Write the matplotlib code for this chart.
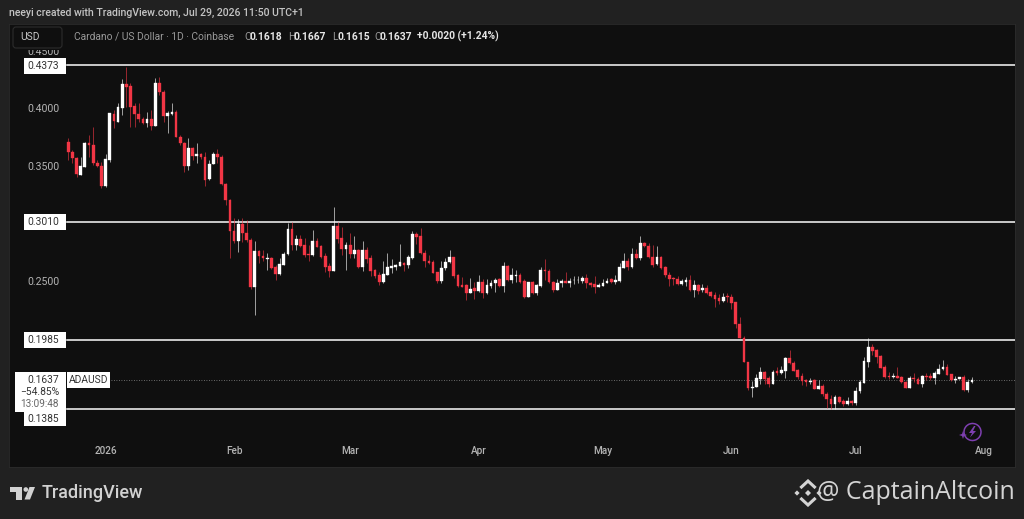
import numpy as np
import pandas as pd
import matplotlib
matplotlib.use('Agg')
import matplotlib.pyplot as plt
import matplotlib.dates as mdates
from matplotlib.patches import Rectangle, FancyBboxPatch, Polygon, Arc

# ADA/USD daily candles
dates = pd.date_range('2025-12-23', periods=219, freq='D')

opens = [
    .3710, .3623, .3566, .3421, .3493, .3696, .3684, .3522, .3501, .3325,
    .3551, .3951, .3884, .4001, .4212, .4195, .4021, .3949, .3908, .3876,
    .3905, .3849, .4218, .4140, .3934, .3951, .3966, .3754, .3696, .3501,
    .3653, .3588, .3601, .3580, .3383, .3516, .3603, .3580, .3342, .3203,
    .2933, .2846, .2994, .2916, .2855, .2446, .2759, .2716, .2690, .2698,
    .2620, .2559, .2638, .2733, .2951, .2812, .2864, .2812, .2733, .2725,
    .2846, .2803, .2716, .2629, .2585, .2977, .2870, .2777, .2812, .2733,
    .2768, .2623, .2768, .2696, .2594, .2548, .2487, .2553, .2614, .2623,
    .2632, .2655, .2638, .2701, .2904, .2893, .2745, .2672, .2667, .2574,
    .2498, .2614, .2661, .2704, .2548, .2464, .2464, .2397, .2435, .2414,
    .2487, .2391, .2455, .2478, .2513, .2455, .2626, .2507, .2542, .2548,
    .2498, .2362, .2490, .2391, .2458, .2594, .2585, .2490, .2420, .2478,
    .2501, .2484, .2504, .2504, .2501, .2524, .2481, .2472, .2449, .2458,
    .2481, .2513, .2490, .2495, .2614, .2672, .2617, .2733, .2698, .2826,
    .2806, .2707, .2646, .2704, .2617, .2550, .2524, .2519, .2472, .2487,
    .2507, .2423, .2463, .2417, .2440, .2405, .2376, .2353, .2327, .2368,
    .2362, .2313, .2124, .2000, .1796, .1567, .1574, .1648, .1707, .1657,
    .1602, .1713, .1695, .1715, .1831, .1787, .1724, .1672, .1640, .1620,
    .1637, .1561, .1585, .1515, .1474, .1431, .1489, .1457, .1431, .1457,
    .1440, .1539, .1614, .1794, .1924, .1898, .1846, .1750, .1672, .1663,
    .1672, .1663, .1622, .1567, .1657, .1648, .1602, .1674, .1672, .1652,
    .1689, .1730, .1748, .1687, .1637, .1646, .1663, .1550, .1618,
]
highs = [
    .3740, .3638, .3580, .3580, .3710, .3768, .3841, .3551, .3536, .3601,
    .3963, .3986, .4049, .4253, .4363, .4218, .4044, .4044, .3928, .3971,
    .3986, .4267, .4271, .4160, .3980, .4044, .3986, .3768, .3710, .3740,
    .3667, .3702, .3615, .3623, .3551, .3623, .3644, .3595, .3351, .3212,
    .3046, .3038, .3046, .3029, .2872, .2846, .2768, .2768, .2742, .2707,
    .2638, .2698, .2751, .3003, .3012, .2899, .2899, .2872, .2812, .2942,
    .2872, .2812, .2742, .2655, .3142, .3012, .2965, .2841, .2919, .2890,
    .2774, .2849, .2797, .2725, .2600, .2580, .2672, .2739, .2687, .2643,
    .2817, .2667, .2725, .2933, .2928, .2957, .2768, .2725, .2681, .2580,
    .2672, .2696, .2768, .2707, .2559, .2530, .2469, .2527, .2492, .2550,
    .2513, .2516, .2507, .2522, .2522, .2667, .2638, .2609, .2594, .2565,
    .2513, .2492, .2498, .2469, .2617, .2687, .2600, .2501, .2513, .2513,
    .2580, .2522, .2542, .2542, .2542, .2559, .2490, .2542, .2484, .2516,
    .2522, .2522, .2550, .2658, .2739, .2696, .2783, .2774, .2890, .2841,
    .2826, .2812, .2803, .2716, .2629, .2580, .2530, .2542, .2516, .2536,
    .2550, .2507, .2472, .2475, .2463, .2411, .2400, .2383, .2397, .2391,
    .2383, .2316, .2185, .2020, .1796, .1628, .1689, .1750, .1715, .1672,
    .1724, .1753, .1761, .1840, .1898, .1798, .1733, .1698, .1646, .1652,
    .1643, .1637, .1602, .1535, .1507, .1507, .1498, .1472, .1489, .1466,
    .1579, .1637, .1834, .1999, .1950, .1907, .1852, .1768, .1704, .1701,
    .1747, .1668, .1628, .1674, .1695, .1666, .1680, .1698, .1695, .1718,
    .1776, .1811, .1774, .1689, .1674, .1666, .1678, .1643, .1667,
]
lows = [
    .3551, .3522, .3406, .3421, .3493, .3580, .3508, .3493, .3305, .3319,
    .3536, .3827, .3884, .3943, .4015, .3841, .3841, .3884, .3864, .3841,
    .3812, .3847, .4117, .3884, .3788, .3943, .3754, .3681, .3449, .3464,
    .3551, .3522, .3557, .3325, .3377, .3516, .3522, .3334, .3159, .2698,
    .2829, .2751, .2838, .2838, .2429, .2203, .2655, .2672, .2594, .2603,
    .2507, .2551, .2638, .2725, .2768, .2768, .2794, .2707, .2672, .2716,
    .2790, .2698, .2577, .2533, .2585, .2829, .2725, .2594, .2696, .2696,
    .2609, .2585, .2658, .2542, .2522, .2464, .2484, .2551, .2565, .2594,
    .2629, .2585, .2614, .2687, .2820, .2733, .2623, .2646, .2565, .2484,
    .2478, .2594, .2658, .2522, .2443, .2443, .2333, .2391, .2342, .2406,
    .2348, .2385, .2435, .2406, .2449, .2406, .2501, .2478, .2493, .2478,
    .2353, .2362, .2385, .2377, .2449, .2507, .2478, .2406, .2420, .2443,
    .2478, .2449, .2472, .2484, .2484, .2435, .2449, .2391, .2446, .2452,
    .2478, .2478, .2472, .2492, .2608, .2594, .2611, .2687, .2681, .2791,
    .2696, .2617, .2640, .2603, .2530, .2455, .2464, .2464, .2464, .2457,
    .2414, .2362, .2385, .2403, .2385, .2362, .2275, .2298, .2318, .2318,
    .2255, .2089, .1998, .1794, .1550, .1486, .1574, .1602, .1602, .1579,
    .1602, .1680, .1687, .1652, .1776, .1711, .1646, .1593, .1587, .1600,
    .1556, .1556, .1500, .1396, .1382, .1382, .1440, .1411, .1419, .1419,
    .1419, .1521, .1608, .1753, .1854, .1782, .1739, .1657, .1646, .1652,
    .1652, .1611, .1565, .1565, .1622, .1600, .1579, .1637, .1637, .1602,
    .1687, .1724, .1680, .1631, .1614, .1643, .1544, .1533, .1615,
]
closes = [
    .3623, .3566, .3429, .3499, .3696, .3681, .3528, .3501, .3325, .3560,
    .3957, .3890, .4009, .4212, .4189, .4009, .3949, .3905, .3876, .3905,
    .3849, .4218, .4140, .3934, .3957, .3966, .3754, .3696, .3501, .3653,
    .3588, .3601, .3574, .3377, .3516, .3601, .3580, .3340, .3203, .2933,
    .2846, .2994, .2916, .2855, .2446, .2759, .2716, .2698, .2698, .2611,
    .2559, .2646, .2733, .2951, .2812, .2864, .2803, .2725, .2725, .2846,
    .2794, .2707, .2620, .2585, .2977, .2864, .2774, .2812, .2733, .2768,
    .2623, .2768, .2690, .2585, .2542, .2493, .2556, .2617, .2629, .2638,
    .2661, .2638, .2707, .2904, .2884, .2745, .2672, .2658, .2571, .2498,
    .2614, .2667, .2707, .2539, .2458, .2449, .2391, .2432, .2408, .2487,
    .2391, .2461, .2481, .2507, .2455, .2632, .2507, .2548, .2551, .2490,
    .2359, .2487, .2391, .2464, .2594, .2588, .2487, .2420, .2481, .2501,
    .2484, .2501, .2510, .2510, .2522, .2478, .2464, .2449, .2464, .2481,
    .2501, .2487, .2507, .2620, .2672, .2617, .2733, .2698, .2826, .2803,
    .2707, .2640, .2707, .2611, .2550, .2519, .2516, .2475, .2498, .2510,
    .2417, .2463, .2411, .2440, .2397, .2370, .2342, .2327, .2359, .2355,
    .2310, .2124, .2000, .1796, .1565, .1579, .1654, .1707, .1648, .1600,
    .1707, .1695, .1724, .1831, .1782, .1718, .1666, .1631, .1620, .1631,
    .1561, .1587, .1513, .1472, .1431, .1489, .1446, .1431, .1457, .1437,
    .1541, .1617, .1800, .1924, .1889, .1840, .1744, .1666, .1660, .1672,
    .1657, .1617, .1570, .1654, .1646, .1602, .1674, .1660, .1654, .1695,
    .1735, .1748, .1680, .1637, .1648, .1663, .1550, .1622, .1637,
]

levels = [0.4373, 0.3010, 0.1985, 0.1385]
last_price = 0.1637
ytick_vals = [0.45, 0.40, 0.35, 0.25]
month_dates = ['2026-01-01', '2026-02-01', '2026-03-01', '2026-04-01',
               '2026-05-01', '2026-06-01', '2026-07-01', '2026-08-01']
month_labels = ['2026', 'Feb', 'Mar', 'Apr', 'May', 'Jun', 'Jul', 'Aug']

BG = '#212121'
PANE = '#0f0f0f'
RED = '#f23645'
TXT = '#b4b4b4'
PURPLE = '#7e3fb0'
plt.rcParams['font.family'] = ['Roboto', 'DejaVu Sans']

W, H = 1024, 519
fig = plt.figure(figsize=(W / 100, H / 100), dpi=100, facecolor=BG)

# chart pane: x 9..1015, y 24..467 in pixels
ax = fig.add_axes([9 / W, 1 - 467 / H, 1006 / W, 443 / H], facecolor=PANE)
x = mdates.date2num(dates)
o, h, l, c = map(np.array, (opens, highs, lows, closes))
up = c >= o
cols = np.where(up, '#ffffff', RED)

for lev in levels:
    ax.axhline(lev, xmin=58 / 1006, color='#f2f2f2', lw=1.15, zorder=1)
ax.axhline(last_price, xmin=102 / 1006, color='#8a8a8a', lw=0.6, ls=(0, (1, 2)), zorder=1)

ax.vlines(x, l, h, colors=cols, lw=0.5, alpha=0.85, zorder=2)
ax.bar(x, c - o, bottom=o, width=0.66, color=cols, edgecolor=cols, lw=0.25, zorder=3)

jan1 = mdates.date2num(pd.Timestamp('2026-01-01'))
ax.set_xlim(jan1 - 23.3, jan1 + 219.4)
ax.set_ylim(0.0880, 0.4734)
ax.set_xticks(mdates.date2num(pd.to_datetime(month_dates)))
ax.set_xticklabels(month_labels, color=TXT, fontsize=7.2, fontweight='medium')
ax.set_yticks(ytick_vals)
ax.set_yticklabels([f'{v:.4f}' for v in ytick_vals], color=TXT, fontsize=7.6)
ax.tick_params(axis='x', length=0, pad=-15)
ax.tick_params(axis='y', length=0, pad=-36)
for s in ax.spines.values():
    s.set_color('#2b2b2b')
    s.set_linewidth(0.6)

# overlay in pixel coordinates for the TradingView furniture
ov = fig.add_axes([0, 0, 1, 1], facecolor='none')
ov.set_xlim(0, W)
ov.set_ylim(H, 0)
ov.axis('off')

ov.add_patch(Rectangle((10, 24.5), 1004, 25.5, color=PANE, lw=0, zorder=1))
ov.text(9, 13, 'neeyi created with TradingView.com, Jul 29, 2026 11:50 UTC+1',
        color='#c4c4c4', fontsize=7.6, fontweight='medium', va='center')
ov.add_patch(FancyBboxPatch((13, 27), 49, 21, boxstyle='round,pad=0,rounding_size=3',
                            fc=PANE, ec='#2c2c2c', lw=0.8, zorder=2))
ov.text(20, 37.5, 'USD', color='#c8c8c8', fontsize=7.4, va='center', zorder=3)

ov.text(74, 36.5, 'Cardano / US Dollar · 1D · Coinbase', color='#9a9a9a', fontsize=7.4, va='center', zorder=3)
for letter, lx, val, vx in [('O', 244, '0.1618', 250), ('H', 288, '0.1667', 294),
                            ('L', 332, '0.1615', 337), ('C', 374, '0.1637', 380)]:
    ov.text(lx, 36.5, letter, color='#9a9a9a', fontsize=7.4, va='center', zorder=3)
    ov.text(vx, 36.5, val, color='#e6e6e6', fontsize=7.4, fontweight='bold', va='center', zorder=3)
ov.text(417, 36.5, '+0.0020 (+1.24%)', color='#e6e6e6', fontsize=7.4, fontweight='bold', va='center', zorder=3)


def tag(x0, x1, y0, y1, txt, tx=64, color='#333333', ha='right'):
    ov.add_patch(Rectangle((x0, y0), x1 - x0, y1 - y0, fc='#ffffff', ec='none', zorder=4))
    ov.text(tx, (y0 + y1) / 2, txt, color=color, fontsize=7.4, ha=ha, va='center', zorder=5)


tag(24, 66, 58, 73.5, f'{levels[0]:.4f}', tx=59)
tag(24, 66, 214, 230, f'{levels[1]:.4f}', tx=59)
tag(24, 66, 332, 348, f'{levels[2]:.4f}', tx=59)
tag(24, 66, 412, 426, f'{levels[3]:.4f}', tx=59)
tag(15, 66, 372, 411.5, '', tx=59)
ov.text(59, 380, f'{last_price:.4f}', color='#333333', fontsize=7.4, ha='right', va='center', zorder=5)
ov.text(59, 392, '−54.85%', color='#333333', fontsize=7.4, ha='right', va='center', zorder=5)
ov.text(59, 404, '13:09:48', color='#666666', fontsize=7.2, ha='right', va='center', zorder=5)
tag(67, 110, 372, 387.5, 'ADAUSD', tx=88.5, ha='center')

# purple bolt badge
ov.add_patch(Arc((972.5, 432), 17, 17, theta1=-215 + 360, theta2=165 + 360 - 20, color=PURPLE, lw=1.1))
ov.add_patch(Polygon([(974, 426), (969, 433), (972, 433), (970, 437.5), (976, 431), (973, 431), (975.5, 426)],
                     fc=PURPLE, ec='none'))
ov.add_patch(Polygon([(963, 431), (964, 434), (967, 435), (964, 436), (963, 439), (962, 436), (959, 435), (962, 434)],
                     fc=PURPLE, ec='none'))

# TradingView logo and wordmark
logo = '#d2d2d2'
ov.add_patch(Polygon([(10, 487), (22, 487), (22, 499.5), (16, 499.5), (16, 491.7), (10, 491.7)], fc=logo, ec='none'))
ov.add_patch(plt.Circle((25.8, 489.5), 2.3, fc=logo, ec='none'))
ov.add_patch(Polygon([(29.5, 487), (35, 487), (30, 499.5), (24.5, 499.5)], fc=logo, ec='none'))
ov.text(42, 493.5, 'TradingView', color=logo, fontsize=13, fontweight='medium', va='center')

# Binance mark and watermark
cx, cy = 808, 493
wm = '#d4d4d4'
for dx, dy, r in [(0, 0, 3), (-11, 0, 2.6), (11, 0, 2.6)]:
    ov.add_patch(Polygon([(cx + dx - r, cy + dy), (cx + dx, cy + dy - r), (cx + dx + r, cy + dy), (cx + dx, cy + dy + r)],
                         fc=wm, ec='none'))
ov.plot([cx - 6.5, cx, cx + 6.5], [cy - 6, cy - 12, cy - 6], color=wm, lw=2.2, solid_joinstyle='miter')
ov.plot([cx - 6.5, cx, cx + 6.5], [cy + 6, cy + 12, cy + 6], color=wm, lw=2.2, solid_joinstyle='miter')
ov.text(1015, 492.5, '@ CaptainAltcoin', color=wm, fontsize=18, family='Open Sans', ha='right', va='center')

fig.savefig('out.png', dpi=100, facecolor=BG)
